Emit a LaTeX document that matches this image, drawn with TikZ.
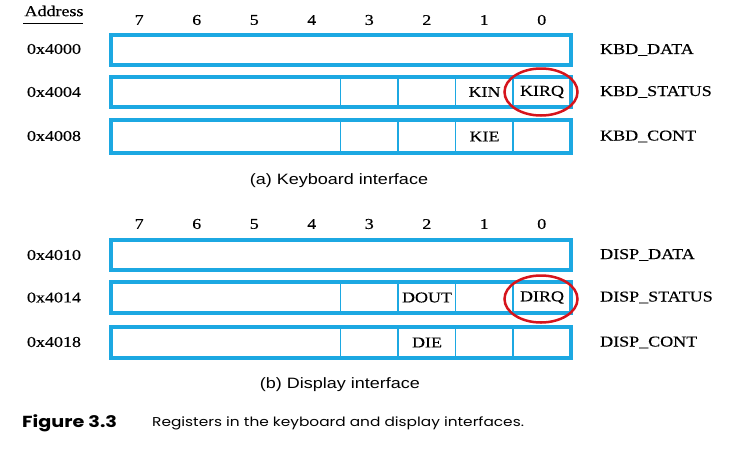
\documentclass[tikz,border=0pt]{standalone}
\usepackage{fontspec}
\usetikzlibrary{shapes.geometric}
\setmainfont{Liberation Serif}[FakeStretch=1.2,FakeBold=0.3]
\newfontfamily\capsans{Liberation Sans}[FakeStretch=1.2]
\newfontfamily\figsans{Poppins}[FakeStretch=1.2]
\definecolor{regblue}{RGB}{28,168,226}
\definecolor{irqred}{RGB}{214,20,28}
\begin{document}
\begin{tikzpicture}[x=1pt,y=-1pt,
  reg/.style={draw=regblue, line width=4pt, inner sep=0pt, minimum width=460pt},
  div/.style={draw=regblue, line width=1.5pt},
  lbl/.style={font=\fontsize{15}{18}\selectfont, inner sep=0pt, text=black},
  caplbl/.style={font=\capsans\fontsize{15}{18}\selectfont, inner sep=0pt, text=black},
  irq/.style={draw=irqred, line width=2.5pt, ellipse, inner sep=0pt, minimum width=73pt, minimum height=47pt}]
\useasboundingbox (0,0) rectangle (754,464);
\fill[white] (0,0) rectangle (754,464);

% header
\node[lbl] (addr) at (54,11) {Address};
\draw[line width=1pt] (23,23.5) -- (83,23.5);

% ---------- keyboard ----------
\foreach \b [count=\i from 0] in {7,6,5,4,3,2,1,0}
  \node[lbl] (kb\b) at (139.25+57.5*\i,20) {\b};

\node[lbl] (a0) at (54,49) {0x4000};
\node[lbl] (a4) at (54,92) {0x4004};
\node[lbl] (a8) at (54,136) {0x4008};

\foreach \x in {340.5,398,455.5,513} {
  \draw[div] (\x,77) -- (\x,107);
  \draw[div] (\x,120) -- (\x,153);
}
\node[reg, minimum height=30pt] (kdata) at (340.5,50) {};
\node[reg, minimum height=30pt] (kstat) at (340.5,92) {};
\node[reg, minimum height=33pt] (kcont) at (340.5,136.5) {};

\node[lbl] (kin) at (484.5,92) {KIN};
\node[lbl] (kirq) at (542,92) {KIRQ};
\node[lbl] (kie) at (484.5,136.5) {KIE};

\node[lbl, anchor=west] (kdn) at (600,50) {KBD\_DATA};
\node[lbl, anchor=west] (ksn) at (600,92) {KBD\_STATUS};
\node[lbl, anchor=west] (kcn) at (600,136.5) {KBD\_CONT};

\node[irq] (kirqc) at (541,92) {};

\node[caplbl] (capa) at (339,181) {(a) Keyboard interface};

% ---------- display ----------
\foreach \b [count=\i from 0] in {7,6,5,4,3,2,1,0}
  \node[lbl] (db\b) at (139.25+57.5*\i,224) {\b};

\node[lbl] (d0) at (54,255) {0x4010};
\node[lbl] (d4) at (54,297.5) {0x4014};
\node[lbl] (d8) at (54,342) {0x4018};

\foreach \x in {340.5,398,455.5,513} {
  \draw[div] (\x,282) -- (\x,313);
  \draw[div] (\x,327) -- (\x,358);
}
\node[reg, minimum height=30pt] (ddata) at (340.5,255) {};
\node[reg, minimum height=31pt] (dstat) at (340.5,297.5) {};
\node[reg, minimum height=31pt] (dcont) at (340.5,342.5) {};

\node[lbl] (dout) at (427,297.5) {DOUT};
\node[lbl] (dirq) at (542,297.5) {DIRQ};
\node[lbl] (die) at (427,342.5) {DIE};

\node[lbl, anchor=west] (ddn) at (600,255) {DISP\_DATA};
\node[lbl, anchor=west] (dsn) at (600,297.5) {DISP\_STATUS};
\node[lbl, anchor=west] (dcn) at (600,342.5) {DISP\_CONT};

\node[irq] (dirqc) at (541,299) {};

\node[caplbl] (capb) at (340,385) {(b) Display interface};

% ---------- figure caption ----------
\node[anchor=west, inner sep=0pt, font=\figsans\bfseries\fontsize{16}{18}\selectfont] (fig) at (22,423) {Figure 3.3};
\node[anchor=west, inner sep=0pt, font=\figsans\fontsize{12.8}{16}\selectfont] (figt) at (152,423) {Registers in the keyboard and display interfaces.};
\end{tikzpicture}
\end{document}
